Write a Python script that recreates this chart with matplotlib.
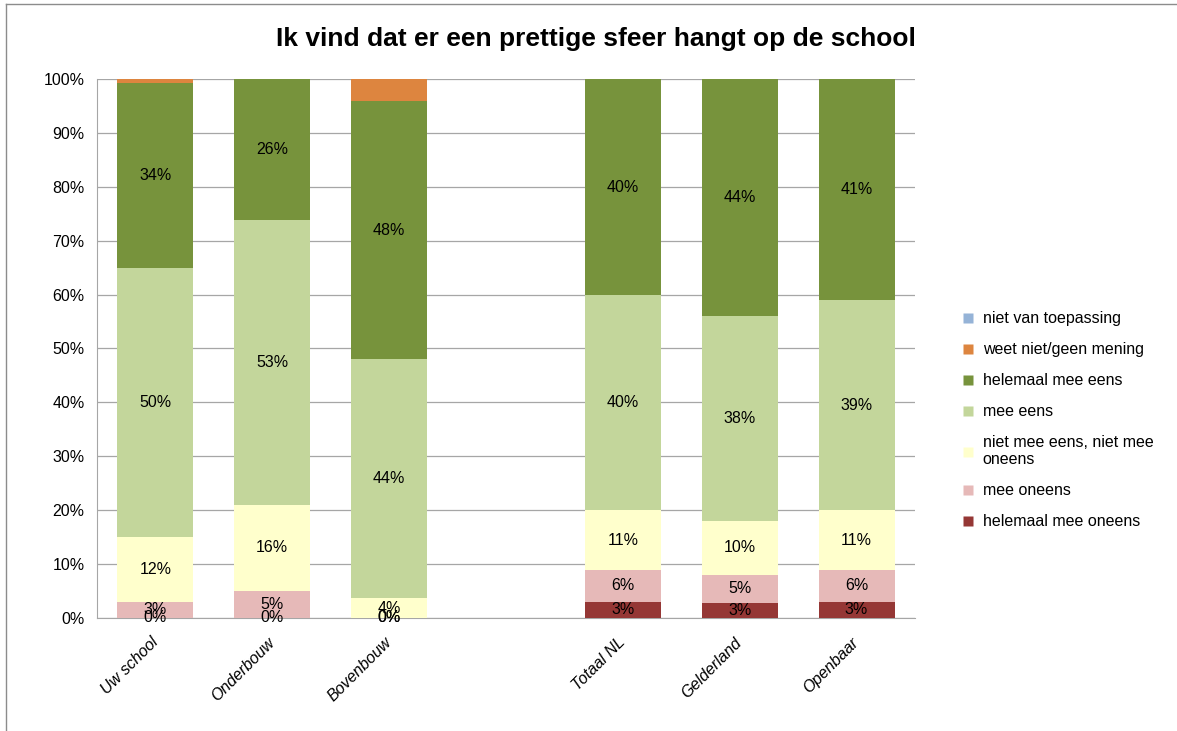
import matplotlib.pyplot as plt
import numpy as np
from matplotlib.lines import Line2D

plt.rcParams['font.family'] = ['Liberation Sans', 'DejaVu Sans']

# categorieën (lege plek tussen Bovenbouw en Totaal NL)
categories = ['Uw school', 'Onderbouw', 'Bovenbouw', 'Totaal NL', 'Gelderland', 'Openbaar']
positions = [0, 1, 2, 4, 5, 6]

helemaal_mee_oneens = [0.0, 0.0, 0.0, 3.0, 2.8, 3.0]
mee_oneens = [3.0, 5.0, 0.0, 5.9, 5.2, 5.9]
neutraal = [12.0, 16.0, 3.7, 11.1, 10.0, 11.1]
mee_eens = [49.9, 52.8, 44.3, 39.9, 38.0, 39.0]
helemaal_mee_eens = [34.4, 26.2, 47.9, 40.1, 44.0, 41.0]
weet_niet = [0.7, 0.0, 4.1, 0.0, 0.0, 0.0]
niet_van_toepassing = [0.0, 0.0, 0.0, 0.0, 0.0, 0.0]

series = [
    ('helemaal mee oneens', helemaal_mee_oneens, '#953735', True),
    ('mee oneens', mee_oneens, '#E6B9B8', True),
    ('niet mee eens, niet mee\noneens', neutraal, '#FFFFCC', True),
    ('mee eens', mee_eens, '#C3D69B', True),
    ('helemaal mee eens', helemaal_mee_eens, '#77933C', True),
    ('weet niet/geen mening', weet_niet, '#DD853F', False),
    ('niet van toepassing', niet_van_toepassing, '#95B3D7', False),
]

fig = plt.figure(figsize=(11.77, 7.31), dpi=100)
ax = fig.add_axes([0.0824, 0.1546, 0.695, 0.7374])

bottom = np.zeros(len(categories))
handles = []
for name, vals, color, show in series:
    vals = np.array(vals)
    bars = ax.bar(positions, vals, width=0.65, bottom=bottom, color=color,
                  edgecolor='none', zorder=3)
    if show:
        txts = ax.bar_label(bars, labels=['%d%%' % round(v) for v in vals],
                            label_type='center', fontsize=11.5, color='black')
        for t in txts:
            t.set_zorder(10)
    bottom += vals
    handles.append((name, color))

ax.set_xlim(-0.5, 6.5)
ax.set_ylim(0, 100)
ax.set_yticks(np.arange(0, 101, 10))
ax.set_yticklabels(['%d%%' % v for v in range(0, 101, 10)], fontsize=11.5)
ax.set_xticks(positions)
ax.set_xticklabels(categories, rotation=45, ha='right', va='center',
                   rotation_mode='anchor', fontsize=11.5, style='italic')
ax.tick_params(axis='x', length=0, pad=16)
ax.tick_params(axis='y', length=0, pad=9)
ax.yaxis.grid(True, color='#a6a6a6', linewidth=0.9, zorder=0)
ax.set_axisbelow(True)
for s in ['top', 'right']:
    ax.spines[s].set_visible(False)
for s in ['left', 'bottom']:
    ax.spines[s].set_color('#a6a6a6')

fig.text(0.506, 0.947, 'Ik vind dat er een prettige sfeer hangt op de school',
         ha='center', va='center', fontsize=19, fontweight='bold')

# legenda (omgekeerde volgorde)
leg_handles = [Line2D([], [], marker='s', linestyle='none', markersize=7,
                      markerfacecolor=c, markeredgecolor='none') for n, c in handles[::-1]]
leg_labels = [n for n, c in handles[::-1]]
fig.legend(leg_handles, leg_labels, loc='center left', bbox_to_anchor=(0.805, 0.425),
           frameon=False, fontsize=11.5, handlelength=0.8, handletextpad=0.5,
           labelspacing=1.0)

# rand om de figuur
fig.add_artist(Line2D([6 / 1177, 1], [1 - 4 / 731, 1 - 4 / 731], color='#8c8c8c', lw=1))
fig.add_artist(Line2D([6 / 1177, 6 / 1177], [0, 1 - 4 / 731], color='#8c8c8c', lw=1))

fig.savefig('out.png', dpi=100)
